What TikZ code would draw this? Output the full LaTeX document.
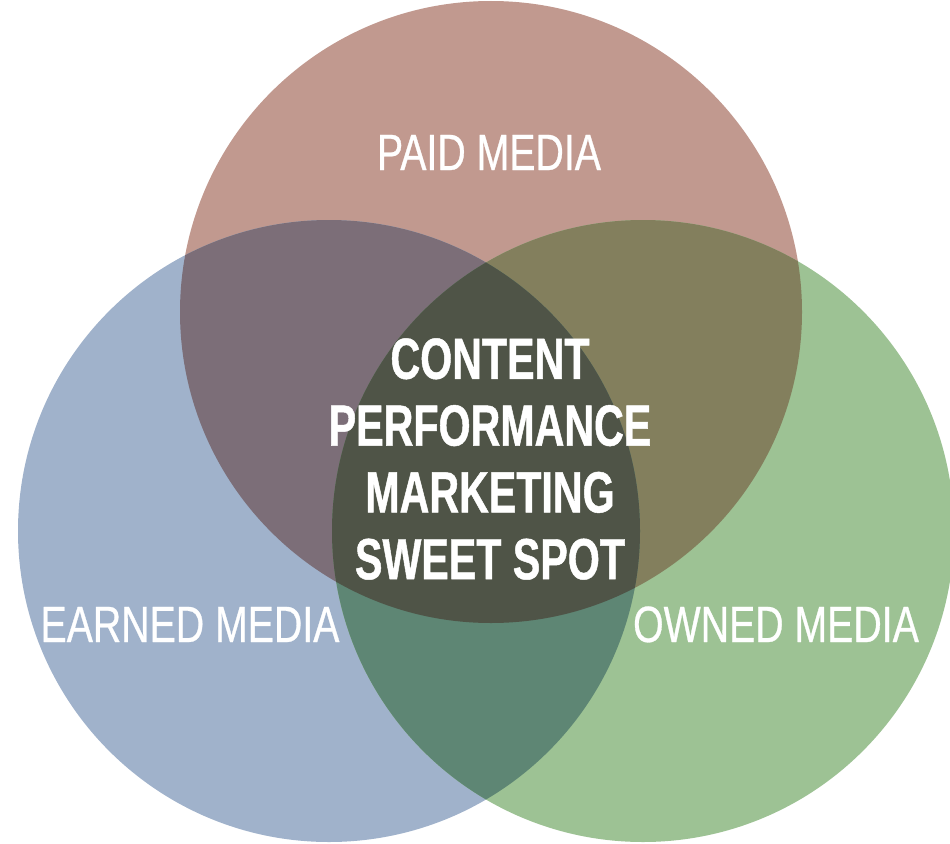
\documentclass[tikz,border=0pt]{standalone}
\usepackage{fontspec}
\setmainfont{Liberation Sans}
\newfontfamily\labelfont[FakeStretch=0.77,FakeBold=0.6]{Liberation Sans}
\newfontfamily\spotfont[FakeStretch=0.71,FakeBold=0.8]{Liberation Sans Bold}

\definecolor{paidc}{RGB}{193,153,143}
\definecolor{earnedc}{RGB}{160,178,203}
\definecolor{ownedc}{RGB}{157,194,148}
\definecolor{paidearned}{RGB}{124,110,120}
\definecolor{paidowned}{RGB}{131,127,93}
\definecolor{earnedowned}{RGB}{94,134,116}
\definecolor{sweetc}{RGB}{79,84,71}

\tikzset{
  medialabel/.style={text=white, inner sep=0pt, anchor=base,
    font=\labelfont\fontsize{51}{51}\selectfont},
  spotlabel/.style={text=white, inner sep=0pt, align=center,
    font=\spotfont\fontsize{58}{66.8}\selectfont}
}

\begin{document}
\begin{tikzpicture}[x=1pt,y=-1pt]
  \useasboundingbox (0,0) rectangle (950,843);
  \def\paid{(491,312) circle[radius=311pt]}
  \def\earned{(329,531) circle[radius=311pt]}
  \def\owned{(643,531) circle[radius=311pt]}

  % the three media circles
  \fill[paidc] \paid;
  \fill[earnedc] \earned;
  \fill[ownedc] \owned;

  % pairwise overlaps
  \begin{scope}
    \clip \paid;
    \fill[paidearned] \earned;
  \end{scope}
  \begin{scope}
    \clip \paid;
    \fill[paidowned] \owned;
  \end{scope}
  \begin{scope}
    \clip \earned;
    \fill[earnedowned] \owned;
  \end{scope}

  % common overlap of all three
  \begin{scope}
    \clip \paid;
    \clip \earned;
    \fill[sweetc] \owned;
  \end{scope}

  % labels
  \node[medialabel] (paidlbl) at (489,170) {PAID MEDIA};
  \node[medialabel] (earnedlbl) at (190,642) {EARNED MEDIA};
  \node[medialabel] (ownedlbl) at (776,642) {OWNED MEDIA};
  \node[spotlabel] (spot) at (490,459)
    {CONTENT\\PERFORMANCE\\MARKETING\\SWEET SPOT};
\end{tikzpicture}
\end{document}
